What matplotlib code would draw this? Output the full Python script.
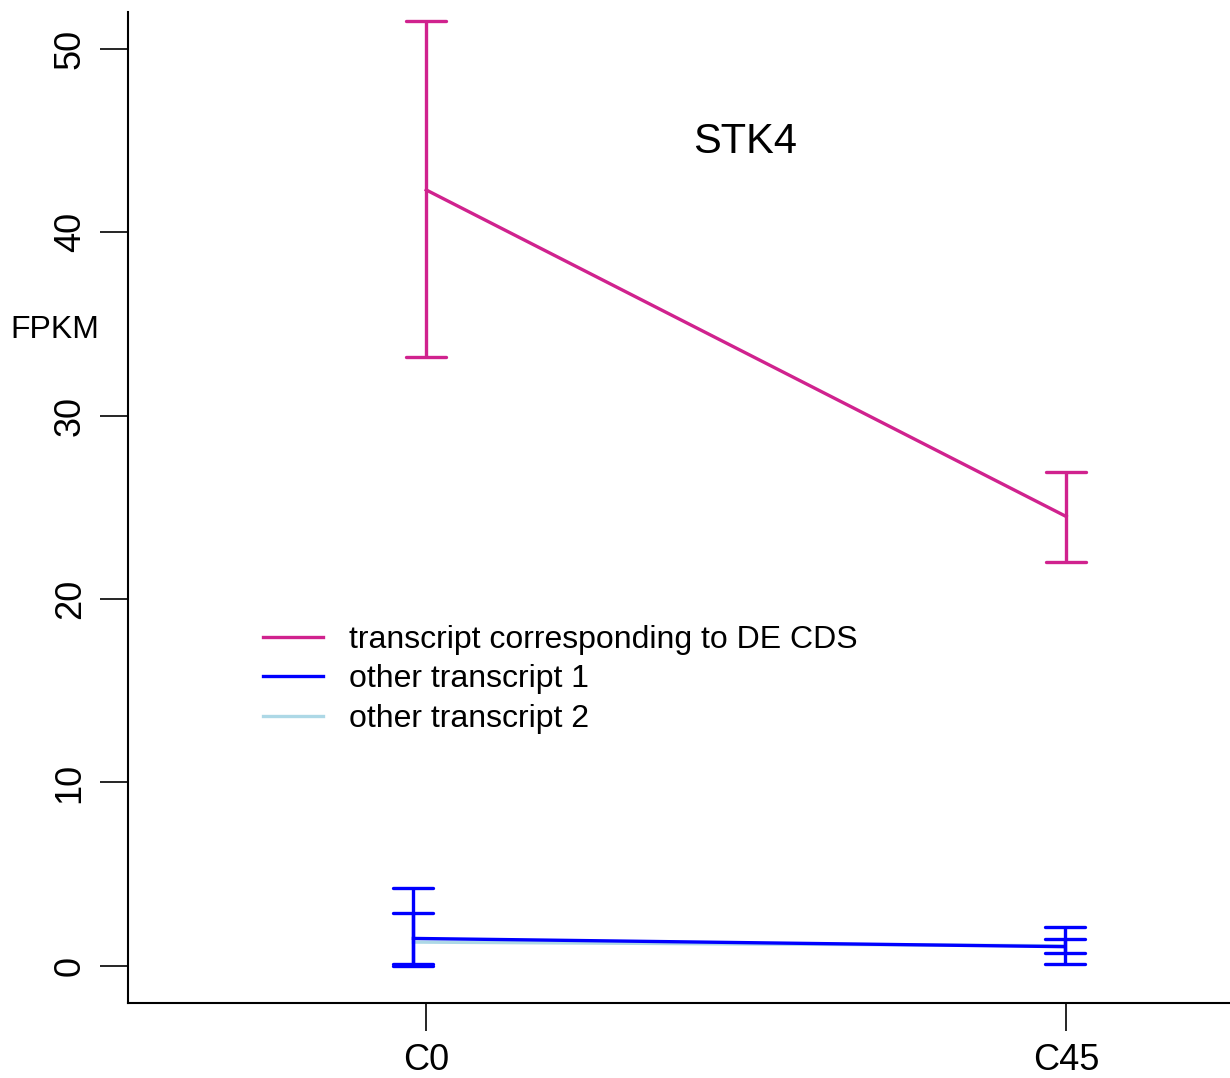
import numpy as np
import matplotlib.pyplot as plt

plt.rcParams['font.family'] = ['Liberation Sans', 'DejaVu Sans']

# data
conditions = ['C0', 'C45']
x_pos = np.array([1.0, 2.0])

de_mean = [42.3, 24.5]
de_low = [33.2, 22.0]
de_high = [51.5, 26.9]

other1_mean = [1.5, 1.05]
other1_low = [0.1, 0.1]
other1_high = [4.25, 2.1]

other2_mean = [1.3, 1.1]
other2_low = [0.0, 0.7]
other2_high = [2.9, 1.47]

magenta = '#D0228E'
blue = '#0000FF'
lightblue = '#ADD8E6'

fig = plt.figure(figsize=(12.3, 10.78), dpi=100)
ax = fig.add_axes([128/1230, 75/1078, 1 - 128/1230, (1003-12)/1078])

lw = 2.4
capw = 20/640  # half cap width

def errbar(xs, lo, hi, color):
    for x, l, h in zip(xs, lo, hi):
        ax.plot([x, x], [l, h], color=color, lw=lw, solid_capstyle='butt')
        ax.plot([x - capw, x + capw], [l, l], color=color, lw=lw, solid_capstyle='round')
        ax.plot([x - capw, x + capw], [h, h], color=color, lw=lw, solid_capstyle='round')

xb = np.array([1.0 - 0.02, 2.0 - 0.002])

ax.plot(x_pos, de_mean, color=magenta, lw=lw, label='transcript corresponding to DE CDS')
errbar(x_pos, de_low, de_high, magenta)
ax.plot(xb, other2_mean, color=lightblue, lw=lw, zorder=2)
ax.plot(xb, other1_mean, color=blue, lw=lw, label='other transcript 1', zorder=3)
ax.plot([], [], color=lightblue, lw=lw, label='other transcript 2')
errbar(xb, other1_low, other1_high, blue)
errbar(xb, other2_low, other2_high, blue)

ax.set_xlim(0.534, 2.256)
ax.set_ylim(-2.02, 52.0)
ax.set_xticks(x_pos)
ax.set_xticklabels(conditions)
ax.set_yticks(np.arange(0, 51, 10))
ax.set_yticklabels([str(v) for v in range(0, 51, 10)], rotation=90, va='center')
ax.tick_params(axis='both', direction='out', length=20, width=1.2, labelsize=26)
ax.tick_params(axis='y', pad=9)
ax.tick_params(axis='x', pad=9)
for s in ['top', 'right']:
    ax.spines[s].set_visible(False)
for s in ['left', 'bottom']:
    ax.spines[s].set_linewidth(1.5)

ax.text(1.498, 44.9, 'STK4', fontsize=30, ha='center', va='center')
fig.text(10/1230, 1 - 330/1078, 'FPKM', fontsize=23, ha='left', va='center')

ax.legend(loc='upper left', bbox_to_anchor=((250-128)/1102, (1003-612)/991), frameon=False,
          fontsize=23, handlelength=1.9, handletextpad=0.8, labelspacing=0.3, borderaxespad=0)

fig.savefig('out.png', dpi=100)
